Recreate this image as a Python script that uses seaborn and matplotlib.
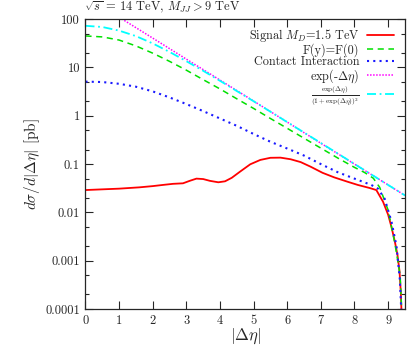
import matplotlib
matplotlib.use("Agg")
import matplotlib.pyplot as plt
import seaborn as sns

# |Delta eta| grid points and cross sections (pb)
sig_x = [0.0, 0.5, 1.0, 1.6, 2.0, 2.3, 2.6, 2.9, 3.1, 3.3, 3.5, 3.7, 3.95, 4.15, 4.35,
         4.6, 4.9, 5.2, 5.5, 5.8, 6.1, 6.4, 6.7, 7.05, 7.4, 7.8, 8.1, 8.45, 8.65, 8.85,
         9.0, 9.1, 9.2, 9.28, 9.34, 9.38, 9.41]
sig_y = [0.029, 0.030, 0.031, 0.033, 0.035, 0.037, 0.039, 0.040, 0.045, 0.050, 0.049,
         0.045, 0.042, 0.044, 0.052, 0.070, 0.099, 0.122, 0.135, 0.136, 0.126, 0.110,
         0.088, 0.066, 0.053, 0.043, 0.037, 0.032, 0.029, 0.0166, 0.009, 0.005, 0.0025,
         0.0013, 0.0006, 0.00021, 0.00005]

fy_x = [0.0, 0.5, 1.0, 1.5, 2.0, 2.5, 3.0, 3.5, 4.0, 4.5, 5.0, 5.5, 6.0, 6.5, 7.0, 7.5,
        8.0, 8.3, 8.56, 8.75, 9.0, 9.2, 9.3, 9.36, 9.42]
fy_y = [45, 43, 37, 28, 19.8, 13.4, 8.8, 5.6, 3.6, 2.25, 1.42, 0.88, 0.55, 0.343, 0.214,
        0.134, 0.0855, 0.067, 0.051, 0.033, 0.0112, 0.0023, 0.0009, 0.00047, 0.00005]

ci_x = [0.0, 0.5, 1.0, 1.5, 2.0, 2.5, 3.0, 3.5, 4.0, 4.5, 5.0, 5.5, 6.0, 6.5, 7.0, 7.5,
        8.0, 8.5, 8.7, 8.9, 9.1, 9.25, 9.35, 9.41]
ci_y = [5.1, 5.0, 4.6, 4.0, 3.2, 2.4, 1.75, 1.25, 0.88, 0.62, 0.42, 0.29, 0.21, 0.15,
        0.10, 0.068, 0.050, 0.037, 0.031, 0.019, 0.0065, 0.002, 0.0004, 0.00005]

exp_x = [1.0, 2.0, 3.0, 4.0, 5.0, 6.0, 7.0, 8.0, 9.0, 9.5]
exp_y = [110, 40.6, 14.9, 5.5, 2.02, 0.74, 0.27, 0.10, 0.037, 0.0225]

frac_x = [0.0, 0.5, 1.0, 1.5, 2.0, 2.5, 3.0, 3.5, 4.0, 5.0, 6.0, 7.0, 8.0, 9.0, 9.5]
frac_y = [73, 69, 58, 44.7, 31.5, 21.0, 13.5, 8.54, 5.3, 2.0, 0.74, 0.274, 0.1006,
          0.037, 0.0225]

ytick_vals = [0.0001, 0.001, 0.01, 0.1, 1, 10, 100]
ytick_labels = ["0.0001", "0.001", "0.01", "0.1", "1", "10", "100"]
xtick_vals = list(range(10))

sns.set_style("ticks")
plt.rcParams["font.family"] = ["cmr10", "DejaVu Serif"]
plt.rcParams["mathtext.fontset"] = "cm"
plt.rcParams["axes.unicode_minus"] = False

fig = plt.figure(figsize=(4.09, 3.46), dpi=100)
ax = fig.add_axes([0.209, 0.107, 0.781, 0.8375])

sns.lineplot(x=sig_x, y=sig_y, ax=ax, color="#ff0000", linewidth=1.3,
             label=r"Signal $M_D$=1.5 TeV")
sns.lineplot(x=fy_x, y=fy_y, ax=ax, color="#00e000", linewidth=1.1,
             linestyle=(0, (4, 3)), label="F(y)=F(0)")
sns.lineplot(x=ci_x, y=ci_y, ax=ax, color="#1a1aff", linewidth=1.5,
             linestyle=(0, (1, 2)), label="Contact Interaction")
sns.lineplot(x=exp_x, y=exp_y, ax=ax, color="#ff00ff", linewidth=1.1,
             linestyle=(0, (1, 1)), label=r"exp(-$\Delta\eta$)")
sns.lineplot(x=frac_x, y=frac_y, ax=ax, color="#00ffff", linewidth=1.3,
             linestyle=(0, (5, 2, 1, 2)),
             label=r"$\frac{\exp(\Delta\eta)}{(1+\exp(\Delta\eta))^2}$")

ax.set_yscale("log")
ax.set_ylim(0.0001, 100)
ax.set_xlim(0, 9.5)
ax.set_yticks(ytick_vals, ytick_labels)
ax.set_xticks(xtick_vals, [str(v) for v in xtick_vals])
minor = [m * 10.0 ** e for e in range(-4, 2) for m in (2, 5)]
ax.set_yticks(minor, minor=True)
ax.yaxis.set_minor_formatter(matplotlib.ticker.NullFormatter())
ax.tick_params(which="both", direction="in", top=True, right=True, labelsize=9, pad=4)
ax.tick_params(which="major", length=6, width=0.8)
ax.tick_params(which="minor", length=3, width=0.8)
for sp in ax.spines.values():
    sp.set_linewidth(0.9)

ax.set_xlabel(r"$|\Delta\eta|$", fontsize=12, labelpad=0)
ax.set_ylabel(r"$d\sigma/d|\Delta\eta|$ [pb]", fontsize=11, labelpad=2)
ax.set_title(r"$\sqrt{s}$ = 14 TeV, $M_{JJ} > 9$ TeV", loc="left", fontsize=9, pad=6,
             x=-0.005)

leg = ax.legend(loc="upper right", bbox_to_anchor=(0.965, 0.972), frameon=False,
                markerfirst=False, fontsize=8.8, handlelength=2.2, handletextpad=0.6,
                labelspacing=-0.08, borderpad=0, borderaxespad=0)
leg.get_texts()[4].set_fontsize(7.4)
for col in leg._legend_handle_box.get_children():
    col.align = "right"

plt.savefig("out.png", dpi=100)
plt.close()
